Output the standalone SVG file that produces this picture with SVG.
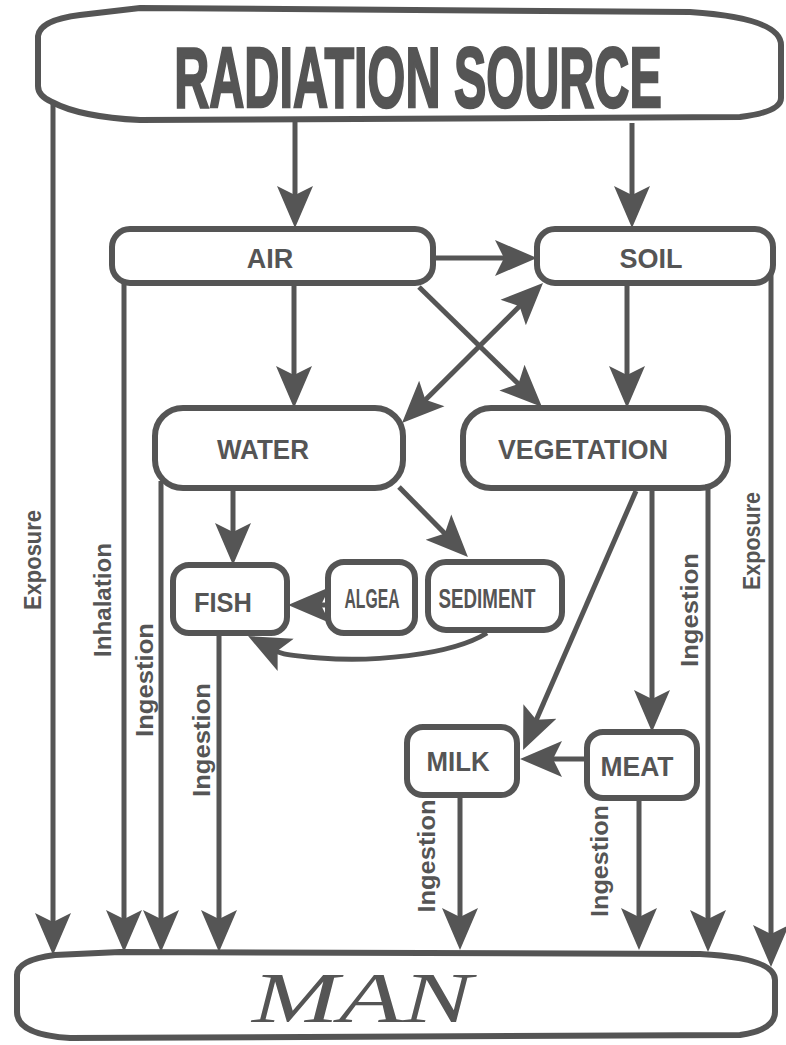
<svg xmlns="http://www.w3.org/2000/svg" width="786" height="1045" viewBox="0 0 786 1045">
<style>
.box{fill:#fff;stroke:#555;stroke-width:6}
.c{fill:none;stroke:#555;stroke-width:5;marker-end:url(#ah)}
.t{font-family:"Liberation Sans",Arial,sans-serif;font-weight:bold;fill:#555;text-anchor:middle}
.lbl{font-family:"Liberation Sans",Arial,sans-serif;font-weight:bold;fill:#555;text-anchor:middle;font-size:23px}
</style>
<defs>
<marker id="ah" markerUnits="userSpaceOnUse" markerWidth="44" markerHeight="40" viewBox="0 0 44 40" refX="22" refY="20" orient="auto-start-reverse">
<path d="M0,2 L42,20 L0,38 L9,20 Z" fill="#555"/>
</marker>
</defs>
<rect width="786" height="1045" fill="#fff"/>

<g id="radiation-source">
<path class="box" d="M38,36 Q40,20 80,15 L140,8 L690,12 Q781,18 781,45 L781,98 Q781,112 740,117 L140,120 Q80,117 52,102 Q38,96 38,86 Z"/>
<text class="t" transform="translate(418,107) scale(0.565,1)" x="0" y="0" font-size="86" stroke="#555" stroke-width="2.5">RADIATION SOURCE</text>
</g>

<g id="air">
<rect class="box" x="112" y="229" width="321" height="54" rx="18"/>
<text class="t" x="270" y="268" font-size="27">AIR</text>
</g>
<g id="soil">
<rect class="box" x="537" y="229" width="236" height="54" rx="18"/>
<text class="t" x="651" y="268" font-size="27">SOIL</text>
</g>
<g id="water">
<rect class="box" x="155" y="408" width="248" height="80" rx="28"/>
<text class="t" x="263" y="459" font-size="27" textLength="92" lengthAdjust="spacingAndGlyphs">WATER</text>
</g>
<g id="vegetation">
<rect class="box" x="463" y="408" width="265" height="80" rx="28"/>
<text class="t" x="583" y="459" font-size="27" textLength="170" lengthAdjust="spacingAndGlyphs">VEGETATION</text>
</g>
<g id="fish">
<rect class="box" x="173" y="565" width="114" height="68" rx="16"/>
<text class="t" x="223" y="612" font-size="27" textLength="58" lengthAdjust="spacingAndGlyphs">FISH</text>
</g>
<g id="algea">
<rect class="box" x="328" y="562" width="87" height="71" rx="16"/>
<text class="t" x="372" y="608" font-size="27" textLength="55" lengthAdjust="spacingAndGlyphs">ALGEA</text>
</g>
<g id="sediment">
<rect class="box" x="428" y="562" width="134" height="68" rx="18"/>
<text class="t" x="487" y="608" font-size="27" textLength="97" lengthAdjust="spacingAndGlyphs">SEDIMENT</text>
</g>
<g id="milk">
<rect class="box" x="407" y="727" width="110" height="68" rx="16"/>
<text class="t" x="458" y="771" font-size="27" textLength="63" lengthAdjust="spacingAndGlyphs">MILK</text>
</g>
<g id="meat">
<rect class="box" x="587" y="732" width="110" height="66" rx="16"/>
<text class="t" x="637" y="776" font-size="28" textLength="73" lengthAdjust="spacingAndGlyphs">MEAT</text>
</g>
<g id="man">
<path class="box" d="M17,975 Q17,960 55,955 L120,952 L700,954 Q775,958 775,980 L775,1012 Q775,1030 740,1035 L70,1038 Q17,1035 17,1012 Z"/>
<text x="362" y="1022" font-family="'Liberation Serif','Times New Roman',serif" font-style="italic" font-size="72" fill="#555" text-anchor="middle" textLength="220" lengthAdjust="spacingAndGlyphs">MAN</text>
</g>

<g id="connectors">
<path class="c" d="M295,122 V208"/>
<path class="c" d="M632,123 V208"/>
<path class="c" d="M436,258 H517"/>
<path class="c" d="M294,286 V388"/>
<path class="c" d="M627,286 V388"/>
<path class="c" d="M419,287 L527.7,393"/>
<path class="c" d="M416.2,408.9 L528.8,297.1" marker-start="url(#ah)"/>
<path class="c" d="M233,491 V545"/>
<path class="c" d="M399,487 L453.9,542.7"/>
<path class="c" d="M325,605 H308"/>
<path class="c" d="M487,633 C450,656 370,662 320,658 S280,652 266,645"/>
<path class="c" d="M636,491 L531.1,731.7"/>
<path class="c" d="M652,491 V712"/>
<path class="c" d="M584,759 H540"/>
<path class="c" d="M53,101 V935"/>
<path class="c" d="M124,283 V932"/>
<path class="c" d="M161,481 V932"/>
<path class="c" d="M219,636 V932"/>
<path class="c" d="M460,798 V930"/>
<path class="c" d="M639,801 V930"/>
<path class="c" d="M708,484 V932"/>
<path class="c" d="M771,273 V947"/>
</g>

<g id="labels">
<text class="lbl" transform="translate(33,560) rotate(-90)" dy="0.35em" textLength="100" lengthAdjust="spacingAndGlyphs">Exposure</text>
<text class="lbl" transform="translate(103,600) rotate(-90)" dy="0.35em" textLength="114" lengthAdjust="spacingAndGlyphs">Inhalation</text>
<text class="lbl" transform="translate(145,680) rotate(-90)" dy="0.35em" textLength="114" lengthAdjust="spacingAndGlyphs">Ingestion</text>
<text class="lbl" transform="translate(202,740) rotate(-90)" dy="0.35em" textLength="114" lengthAdjust="spacingAndGlyphs">Ingestion</text>
<text class="lbl" transform="translate(690,610) rotate(-90)" dy="0.35em" textLength="114" lengthAdjust="spacingAndGlyphs">Ingestion</text>
<text class="lbl" transform="translate(752,541) rotate(-90)" dy="0.35em" textLength="98" lengthAdjust="spacingAndGlyphs">Exposure</text>
<text class="lbl" transform="translate(427,856) rotate(-90)" dy="0.35em" textLength="113" lengthAdjust="spacingAndGlyphs">Ingestion</text>
<text class="lbl" transform="translate(600,861) rotate(-90)" dy="0.35em" textLength="112" lengthAdjust="spacingAndGlyphs">Ingestion</text>
</g>
</svg>
